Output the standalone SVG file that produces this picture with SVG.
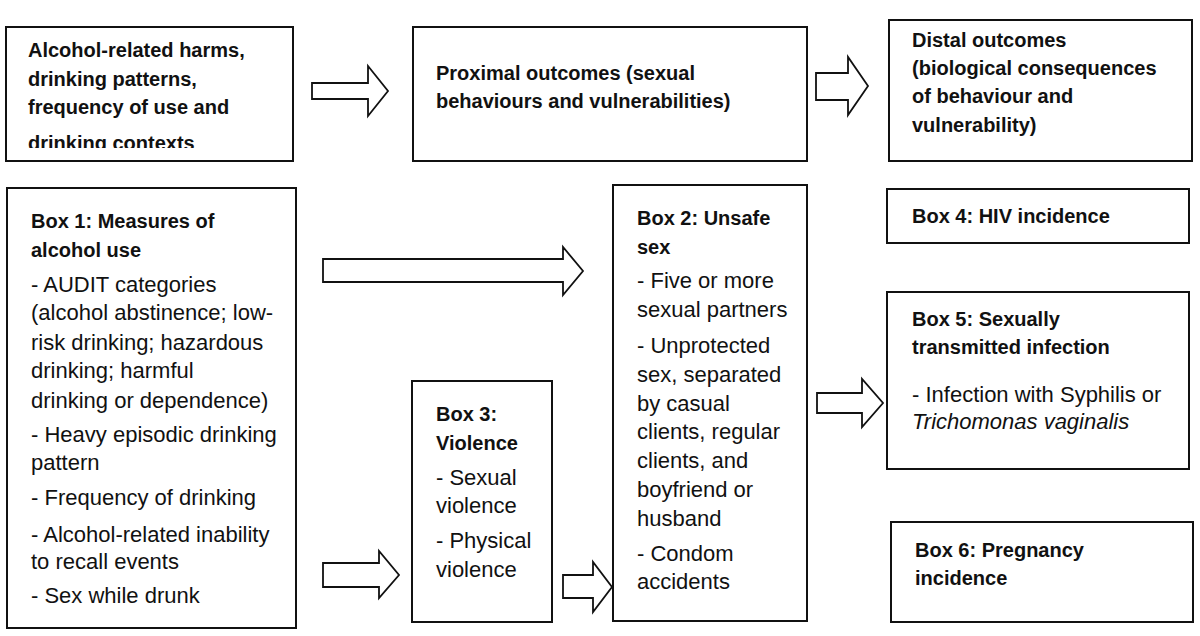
<svg xmlns="http://www.w3.org/2000/svg" width="1200" height="636" viewBox="0 0 1200 636">
<defs>
<style>
.box{fill:#fff;stroke:#111;stroke-width:2}
.arr{fill:#fff;stroke:#111;stroke-width:1.8;stroke-linejoin:miter}
text{font-family:"Liberation Sans",Arial,sans-serif;font-size:22px;fill:#111}
.b{font-weight:bold;font-size:20px}
.i{font-style:italic}
</style>
<clipPath id="clipA"><rect x="6" y="27" width="287" height="121"/></clipPath>
</defs>
<rect width="1200" height="636" fill="#fff"/>
<g id="nodeA">
<rect class="box" x="6" y="27" width="287" height="134"/>
<g clip-path="url(#clipA)">
<text class="b" x="28" y="57">Alcohol-related harms,</text>
<text class="b" x="28" y="86">drinking patterns,</text>
<text class="b" x="28" y="114">frequency of use and</text>
<text class="b" x="28" y="149.5">drinking contexts</text>
</g>
</g>
<g id="nodeB">
<rect class="box" x="413" y="27" width="394" height="134"/>
<text class="b" x="436" y="80">Proximal outcomes (sexual</text>
<text class="b" x="436" y="108">behaviours and vulnerabilities)</text>
</g>
<g id="nodeC">
<rect class="box" x="889" y="20" width="303" height="141"/>
<text class="b" x="912" y="47">Distal outcomes</text>
<text class="b" x="912" y="75">(biological consequences</text>
<text class="b" x="912" y="103">of behaviour and</text>
<text class="b" x="912" y="132">vulnerability)</text>
</g>
<g id="box1">
<rect class="box" x="7" y="188" width="289" height="440"/>
<text class="b" x="31" y="228">Box 1: Measures of</text>
<text class="b" x="31" y="257">alcohol use</text>
<text x="31" y="292">- AUDIT categories</text>
<text x="31" y="320">(alcohol abstinence; low-</text>
<text x="31" y="350">risk drinking; hazardous</text>
<text x="31" y="378">drinking; harmful</text>
<text x="31" y="408">drinking or dependence)</text>
<text x="31" y="442">- Heavy episodic drinking</text>
<text x="31" y="470">pattern</text>
<text x="31" y="505">- Frequency of drinking</text>
<text x="31" y="542">- Alcohol-related inability</text>
<text x="31" y="569">to recall events</text>
<text x="31" y="603">- Sex while drunk</text>
</g>
<g id="box2">
<rect class="box" x="613" y="185" width="194" height="436"/>
<text class="b" x="637" y="225">Box 2: Unsafe</text>
<text class="b" x="637" y="254">sex</text>
<text x="637" y="288">- Five or more</text>
<text x="637" y="317">sexual partners</text>
<text x="637" y="353">- Unprotected</text>
<text x="637" y="382">sex, separated</text>
<text x="637" y="411">by casual</text>
<text x="637" y="439">clients, regular</text>
<text x="637" y="468">clients, and</text>
<text x="637" y="497">boyfriend or</text>
<text x="637" y="526">husband</text>
<text x="637" y="561">- Condom</text>
<text x="637" y="589">accidents</text>
</g>
<g id="box3">
<rect class="box" x="412" y="381" width="140" height="241"/>
<text class="b" x="436" y="421">Box 3:</text>
<text class="b" x="436" y="450">Violence</text>
<text x="436" y="485">- Sexual</text>
<text x="436" y="513">violence</text>
<text x="436" y="548">- Physical</text>
<text x="436" y="577">violence</text>
</g>
<g id="box4">
<rect class="box" x="887" y="189" width="302" height="54"/>
<text class="b" x="912" y="223">Box 4: HIV incidence</text>
</g>
<g id="box5">
<rect class="box" x="887" y="292" width="302" height="177"/>
<text class="b" x="912" y="326">Box 5: Sexually</text>
<text class="b" x="912" y="354">transmitted infection</text>
<text x="912" y="402">-  Infection with Syphilis or</text>
<text class="i" x="912" y="429">Trichomonas vaginalis</text>
</g>
<g id="box6">
<rect class="box" x="891" y="522" width="302" height="100"/>
<text class="b" x="915" y="557">Box 6: Pregnancy</text>
<text class="b" x="915" y="585">incidence</text>
</g>
<g id="connectors">
<polygon class="arr" points="312,83 368,83 368,66 388,91 368,116 368,99 312,99"/>
<polygon class="arr" points="816,73 848,73 848,57 868,86 848,115 848,100 816,100"/>
<polygon class="arr" points="323,259 563,259 563,247 583,271 563,295 563,282 323,282"/>
<polygon class="arr" points="323,563 379,563 379,551 399,575 379,598 379,587 323,587"/>
<polygon class="arr" points="563,575 593,575 593,562 612,587 593,612 593,598 563,598"/>
<polygon class="arr" points="817,393 862,393 862,379 883,403 862,427 862,413 817,413"/>
</g>
</svg>
